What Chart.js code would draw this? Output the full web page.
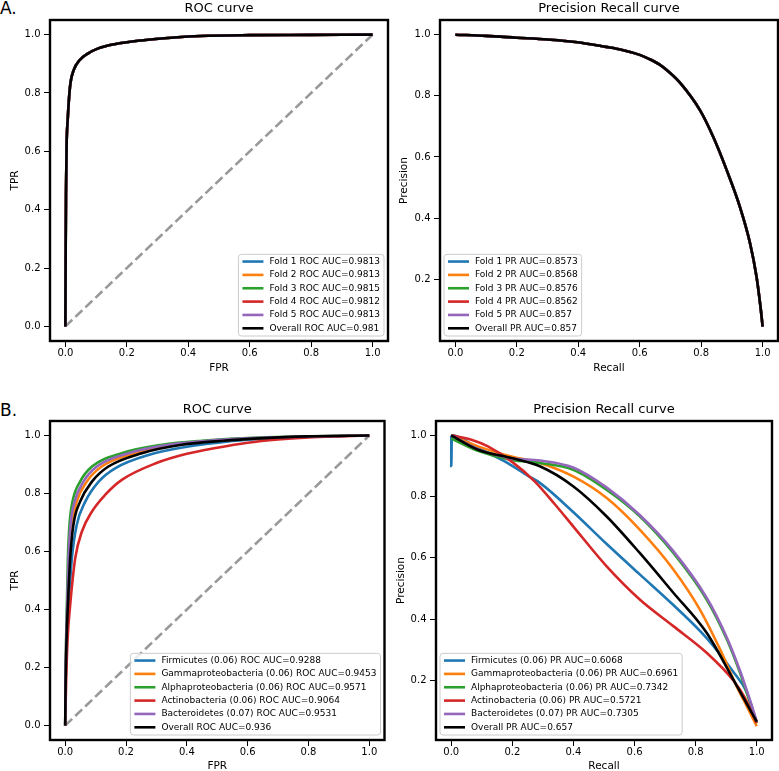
<!DOCTYPE html>
<html>
<head>
<meta charset="utf-8">
<script src="https://cdn.jsdelivr.net/npm/chart.js@4.4.1/dist/chart.umd.min.js"></script>
<style>
  html, body { margin:0; padding:0; background:#fff; overflow:hidden; }
  body { width:779px; height:771px; position:relative; }
  canvas { position:absolute; }
  .panel { position:absolute; left:0; font-family:"DejaVu Sans"; font-size:17px; line-height:17px; color:#000; }
</style>
</head>
<body>
<div class="panel" style="top:0px">A.</div>
<div class="panel" style="top:402px">B.</div>
<canvas id="roc-a" width="390" height="380" style="left:0;top:0"></canvas>
<canvas id="pr-a" width="389" height="380" style="left:390px;top:0"></canvas>
<canvas id="roc-b" width="390" height="390" style="left:0;top:390px"></canvas>
<canvas id="pr-b" width="389" height="390" style="left:390px;top:390px"></canvas>
<script>
// ---- panel A: 5 folds + overall, all curves lie on top of each other ----
var rocA_fpr = [0, 0.001, 0.002, 0.004, 0.0075, 0.015, 0.027, 0.046, 0.073, 0.105, 0.16, 0.247, 0.355, 0.44, 0.6, 0.8, 1.0];
var rocA_tpr = [0, 0.25, 0.45, 0.62, 0.706, 0.82, 0.878, 0.912, 0.935, 0.952, 0.967, 0.98, 0.99, 0.995, 0.998, 0.999, 1.0];
var rocA_labels = ['Fold 1 ROC AUC=0.9813', 'Fold 2 ROC AUC=0.9813', 'Fold 3 ROC AUC=0.9815',
                   'Fold 4 ROC AUC=0.9812', 'Fold 5 ROC AUC=0.9813', 'Overall ROC AUC=0.981'];

var prA_recall    = [0, 0.1, 0.2, 0.3, 0.39, 0.49, 0.54, 0.6, 0.63, 0.665, 0.7, 0.731, 0.796, 0.839, 0.883, 0.926, 0.959, 0.98, 0.993, 1.0];
var prA_precision = [1.0, 0.996, 0.99, 0.984, 0.976, 0.96, 0.951, 0.934, 0.921, 0.902, 0.874, 0.843, 0.753, 0.666, 0.557, 0.437, 0.318, 0.209, 0.11, 0.045];
var prA_labels = ['Fold 1 PR AUC=0.8573', 'Fold 2 PR AUC=0.8568', 'Fold 3 PR AUC=0.8576',
                  'Fold 4 PR AUC=0.8562', 'Fold 5 PR AUC=0.857', 'Overall PR AUC=0.857'];

// ---- panel B: per taxon ----
var taxa = ['Firmicutes (0.06)', 'Gammaproteobacteria (0.06)', 'Alphaproteobacteria (0.06)',
            'Actinobacteria (0.06)', 'Bacteroidetes (0.07)'];
var rocB_auc = ['0.9288', '0.9453', '0.9571', '0.9064', '0.9531'];
var rocB_overall = '0.936';
var prB_auc = ['0.6068', '0.6961', '0.7342', '0.5721', '0.7305'];
var prB_overall = '0.657';

// ROC curves (fpr, tpr)
var firm_fpr  = [0, 0.0016, 0.005, 0.011, 0.022, 0.038, 0.066, 0.11, 0.164, 0.274, 0.405, 0.53, 0.65, 0.8, 1.0];
var firm_tpr  = [0, 0.15, 0.3, 0.416, 0.577, 0.692, 0.772, 0.841, 0.887, 0.933, 0.962, 0.979, 0.988, 0.996, 1.0];
var gamma_fpr = [0, 0.0012, 0.004, 0.0077, 0.013, 0.022, 0.038, 0.071, 0.12, 0.23, 0.361, 0.5, 0.62, 0.8, 1.0];
var gamma_tpr = [0, 0.15, 0.3, 0.416, 0.577, 0.692, 0.772, 0.841, 0.893, 0.939, 0.968, 0.982, 0.99, 0.997, 1.0];
var alpha_fpr = [0, 0.001, 0.003, 0.0055, 0.0088, 0.014, 0.024, 0.049, 0.088, 0.186, 0.318, 0.45, 0.6, 0.8, 1.0];
var alpha_tpr = [0, 0.15, 0.3, 0.416, 0.577, 0.692, 0.772, 0.841, 0.893, 0.939, 0.968, 0.982, 0.991, 0.997, 1.0];
var actino_fpr = [0, 0.003, 0.008, 0.0164, 0.033, 0.055, 0.088, 0.131, 0.186, 0.3, 0.4, 0.5, 0.6, 0.7, 0.8, 0.9, 1.0];
var actino_tpr = [0, 0.15, 0.3, 0.416, 0.577, 0.669, 0.738, 0.795, 0.847, 0.905, 0.937, 0.958, 0.975, 0.986, 0.993, 0.997, 1.0];
var bact_fpr  = [0, 0.001, 0.0035, 0.0066, 0.011, 0.0175, 0.031, 0.06, 0.104, 0.208, 0.34, 0.47, 0.6, 0.8, 1.0];
var bact_tpr  = [0, 0.15, 0.3, 0.416, 0.577, 0.692, 0.772, 0.841, 0.893, 0.939, 0.968, 0.982, 0.99, 0.997, 1.0];
var all_fpr   = [0, 0.0014, 0.0045, 0.0088, 0.0164, 0.027, 0.049, 0.088, 0.142, 0.252, 0.383, 0.52, 0.64, 0.8, 1.0];
var all_tpr   = [0, 0.15, 0.3, 0.416, 0.577, 0.692, 0.772, 0.841, 0.893, 0.939, 0.968, 0.982, 0.99, 0.997, 1.0];

// PR curves (recall, precision)
var firm_rec   = [0, 0, 0.002, 0.087, 0.175, 0.251, 0.29, 0.399, 0.508, 0.617, 0.727, 0.836, 0.923, 0.967, 1.0];
var firm_prec  = [1.0, 0.9, 1.0, 0.959, 0.915, 0.868, 0.845, 0.75, 0.646, 0.546, 0.446, 0.338, 0.228, 0.162, 0.062];
var gamma_rec  = [0, 0.1, 0.2, 0.29, 0.399, 0.508, 0.617, 0.727, 0.814, 0.88, 0.934, 0.967, 1.0];
var gamma_prec = [1.0, 0.96, 0.93, 0.91, 0.866, 0.796, 0.692, 0.562, 0.431, 0.301, 0.181, 0.116, 0.05];
var alpha_rec  = [0, 0.087, 0.197, 0.29, 0.399, 0.508, 0.617, 0.727, 0.836, 0.902, 0.945, 0.978, 1.0];
var alpha_prec = [0.99, 0.95, 0.92, 0.91, 0.888, 0.823, 0.736, 0.616, 0.464, 0.334, 0.225, 0.127, 0.06];
var actino_rec  = [0, 0.066, 0.12, 0.197, 0.273, 0.339, 0.399, 0.508, 0.617, 0.727, 0.836, 0.923, 0.96, 1.0];
var actino_prec = [1.0, 0.986, 0.964, 0.915, 0.85, 0.775, 0.703, 0.573, 0.464, 0.377, 0.29, 0.2, 0.145, 0.06];
var bact_rec   = [0, 0.087, 0.197, 0.29, 0.399, 0.508, 0.617, 0.727, 0.836, 0.902, 0.945, 0.978, 1.0];
var bact_prec  = [1.0, 0.955, 0.925, 0.918, 0.895, 0.83, 0.74, 0.622, 0.47, 0.34, 0.232, 0.135, 0.065];
var all_rec    = [0, 0.087, 0.197, 0.29, 0.399, 0.508, 0.617, 0.727, 0.836, 0.923, 1.0];
var all_prec   = [1.0, 0.953, 0.926, 0.899, 0.834, 0.736, 0.616, 0.486, 0.355, 0.203, 0.065];

var ticks01 = [0, 0.2, 0.4, 0.6, 0.8, 1.0];
var ticksPR = [0.2, 0.4, 0.6, 0.8, 1.0];
var colors = ['#1f77b4', '#ff7f0e', '#2ca02c', '#d62728', '#9467bd', '#000000'];

Chart.defaults.font.family = '"DejaVu Sans"';
Chart.defaults.color = '#000';

function pts(xs, ys) {
  var out = [];
  for (var i = 0; i < xs.length; i++) out.push({x: xs[i], y: ys[i]});
  return out;
}

function curve(label, data, i) {
  return { label: label, data: data, borderColor: colors[i], borderWidth: 2.6, pointRadius: 0,
           fill: false, cubicInterpolationMode: 'monotone', order: 6 - i + (i === 5 ? 0 : 1) };
}

function diagonal() {
  return { data: [{x: 0, y: 0}, {x: 1, y: 1}], borderColor: '#999999', borderWidth: 2.6,
           borderDash: [9.6, 4.2], pointRadius: 0, fill: false, order: 20 };
}

// frame round the axes and a matplotlib style legend inside the plot
var frameAndLegend = {
  id: 'frameAndLegend',
  afterDatasetsDraw: function(chart, args, opts) {
    var ctx = chart.ctx, a = chart.chartArea;
    ctx.save();
    ctx.strokeStyle = '#000';
    ctx.lineWidth = 2.4;
    ctx.strokeRect(a.left, a.top, a.right - a.left, a.bottom - a.top);

    var items = chart.data.datasets.filter(function(d){ return d.label; });
    ctx.font = '9px "DejaVu Sans"';
    var tw = 0;
    items.forEach(function(d){ tw = Math.max(tw, ctx.measureText(d.label).width); });
    var rowH = 13.35;
    var w = 4 + 21 + 6 + tw + 4;
    var h = 7.2 + (items.length - 1) * rowH + 7.7;
    var x = opts.corner === 'right' ? a.right - 4 - w : a.left + 4;
    var y = a.bottom - 5 - h;
    var r = 3;
    ctx.beginPath();
    ctx.moveTo(x + r, y);
    ctx.lineTo(x + w - r, y); ctx.arcTo(x + w, y, x + w, y + r, r);
    ctx.lineTo(x + w, y + h - r); ctx.arcTo(x + w, y + h, x + w - r, y + h, r);
    ctx.lineTo(x + r, y + h); ctx.arcTo(x, y + h, x, y + h - r, r);
    ctx.lineTo(x, y + r); ctx.arcTo(x, y, x + r, y, r);
    ctx.closePath();
    ctx.fillStyle = 'rgba(255,255,255,0.8)';
    ctx.fill();
    ctx.strokeStyle = '#cccccc';
    ctx.lineWidth = 1;
    ctx.stroke();

    ctx.textBaseline = 'middle';
    ctx.textAlign = 'left';
    items.forEach(function(d, i){
      var cy = y + 7.2 + i * rowH;
      ctx.strokeStyle = d.borderColor;
      ctx.lineWidth = 2.6;
      ctx.beginPath();
      ctx.moveTo(x + 4, cy);
      ctx.lineTo(x + 25, cy);
      ctx.stroke();
      ctx.fillStyle = '#000';
      ctx.fillText(d.label, x + 31, cy);
    });
    ctx.restore();
  }
};

function makeChart(id, datasets, o) {
  return new Chart(document.getElementById(id).getContext('2d'), {
    type: 'line',
    data: { datasets: datasets },
    plugins: [frameAndLegend],
    options: {
      responsive: false,
      animation: false,
      events: [],
      layout: { padding: { left: 0, top: 0, bottom: 0, right: o.pr } },
      plugins: {
        legend: { display: false },
        tooltip: { enabled: false },
        title: { display: true, text: o.title, fullSize: false,
                 font: { size: 13, weight: 'normal' }, color: '#000',
                 padding: { top: o.tt, bottom: o.tb } },
        frameAndLegend: { corner: o.corner }
      },
      scales: {
        x: {
          type: 'linear', min: -0.05, max: 1.05,
          afterBuildTicks: function(ax){ ax.ticks = ticks01.map(function(v){ return {value: v}; }); },
          afterFit: function(ax){ ax.height = o.xh; },
          ticks: { callback: function(v){ return v.toFixed(1); }, font: { size: 10 }, color: '#000',
                   padding: 0, maxRotation: 0, autoSkip: false },
          grid: { drawOnChartArea: false, drawTicks: true, tickLength: 6, color: '#000', lineWidth: 1 },
          border: { display: false },
          title: { display: true, text: o.xTitle, font: { size: 10.5 }, color: '#000',
                   padding: { top: 0, bottom: o.xtb } }
        },
        y: {
          type: 'linear', min: o.yMin, max: o.yMax,
          afterBuildTicks: function(ax){ ax.ticks = o.yTicks.map(function(v){ return {value: v}; }); },
          afterFit: function(ax){ ax.width = o.yw; },
          ticks: { callback: function(v){ return v.toFixed(1); }, font: { size: 10 }, color: '#000',
                   padding: 3.5, autoSkip: false },
          grid: { drawOnChartArea: false, drawTicks: true, tickLength: 6, color: '#000', lineWidth: 1 },
          border: { display: false },
          title: { display: true, text: o.yTitle, font: { size: 10.5 }, color: '#000',
                   padding: { top: o.ytp, bottom: 0 } }
        }
      }
    }
  });
}

// A. ROC
var rocA_sets = [diagonal()];
rocA_labels.forEach(function(l, i){ rocA_sets.push(curve(l, pts(rocA_fpr, rocA_tpr), i)); });
makeChart('roc-a', rocA_sets, { title: 'ROC curve', xTitle: 'FPR', yTitle: 'TPR', corner: 'right',
  yMin: -0.05, yMax: 1.05, yTicks: ticks01, pr: 2, yw: 50, xh: 39, tt: 0.5, tb: 3.9, xtb: 5.4, ytp: 9.2 });

// A. Precision Recall
var prA_sets = [];
prA_labels.forEach(function(l, i){ prA_sets.push(curve(l, pts(prA_recall, prA_precision), i)); });
makeChart('pr-a', prA_sets, { title: 'Precision Recall curve', xTitle: 'Recall', yTitle: 'Precision', corner: 'left',
  yMin: -0.002, yMax: 1.048, yTicks: ticksPR, pr: 1, yw: 50, xh: 39, tt: 0.5, tb: 3.9, xtb: 5.4, ytp: 8.4 });

// B. ROC
var rocB_x = [firm_fpr, gamma_fpr, alpha_fpr, actino_fpr, bact_fpr, all_fpr];
var rocB_y = [firm_tpr, gamma_tpr, alpha_tpr, actino_tpr, bact_tpr, all_tpr];
var rocB_sets = [diagonal()];
for (var i = 0; i < 6; i++) {
  var lab = i < 5 ? taxa[i] + ' ROC AUC=' + rocB_auc[i] : 'Overall ROC AUC=' + rocB_overall;
  rocB_sets.push(curve(lab, pts(rocB_x[i], rocB_y[i]), i));
}
makeChart('roc-b', rocB_sets, { title: 'ROC curve', xTitle: 'FPR', yTitle: 'TPR', corner: 'right',
  yMin: -0.05, yMax: 1.05, yTicks: ticks01, pr: 5.5, yw: 50, xh: 40, tt: 12.2, tb: 3.2, xtb: 7, ytp: 8.7 });

// B. Precision Recall
var prB_x = [firm_rec, gamma_rec, alpha_rec, actino_rec, bact_rec, all_rec];
var prB_y = [firm_prec, gamma_prec, alpha_prec, actino_prec, bact_prec, all_prec];
var prB_sets = [];
for (var j = 0; j < 6; j++) {
  var labp = j < 5 ? taxa[j] + ' PR AUC=' + prB_auc[j] : 'Overall PR AUC=' + prB_overall;
  prB_sets.push(curve(labp, pts(prB_x[j], prB_y[j]), j));
}
makeChart('pr-b', prB_sets, { title: 'Precision Recall curve', xTitle: 'Recall', yTitle: 'Precision', corner: 'left',
  yMin: 0.005, yMax: 1.047, yTicks: ticksPR, pr: 7, yw: 46, xh: 40, tt: 12.2, tb: 3.2, xtb: 7, ytp: 5.4 });
</script>
</body>
</html>
